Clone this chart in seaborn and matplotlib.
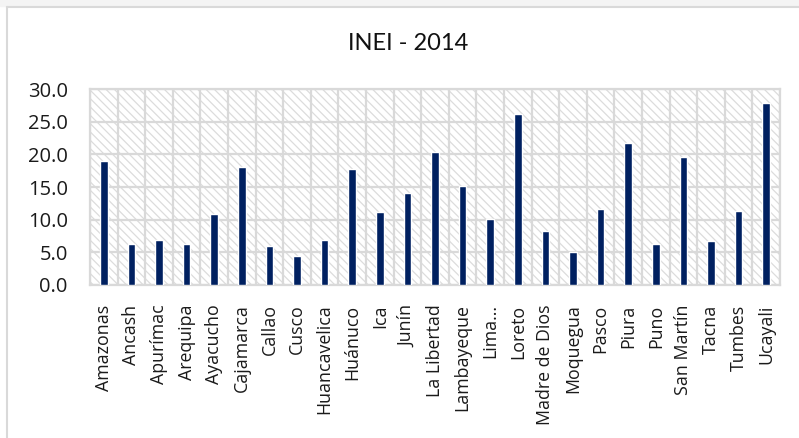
import numpy as np
import pandas as pd
import matplotlib
matplotlib.use("Agg")
import matplotlib.pyplot as plt
import seaborn as sns

# -------------------------------------------------
# Data (INEI - 2014)
# -------------------------------------------------

regiones = ["Amazonas", "Ancash", "Apurímac", "Arequipa", "Ayacucho",
            "Cajamarca", "Callao", "Cusco", "Huancavelica", "Huánuco",
            "Ica", "Junín", "La Libertad", "Lambayeque", "Lima...",
            "Loreto", "Madre de Dios", "Moquegua", "Pasco", "Piura",
            "Puno", "San Martín", "Tacna", "Tumbes", "Ucayali"]

valores = [19.0, 6.3, 6.9, 6.3, 10.8,
           18.1, 5.9, 4.4, 6.9, 17.7,
           11.2, 14.1, 20.3, 15.2, 10.1,
           26.2, 8.2, 5.0, 11.7, 21.7,
           6.3, 19.6, 6.7, 11.4, 27.8]

y_ticks = [0, 5, 10, 15, 20, 25, 30]

df = pd.DataFrame({"region": regiones, "valor": valores})

# -------------------------------------------------
# Plot
# -------------------------------------------------

sns.set_style("white")
plt.rcParams["font.family"] = ["Open Sans", "DejaVu Sans"]
plt.rcParams["hatch.linewidth"] = 0.9
plt.rcParams["hatch.color"] = "#dcdcdc"

fig = plt.figure(figsize=(7.99, 4.38), dpi=100)
ax = fig.add_axes([90 / 799, 1 - 285 / 438, 690 / 799, 196 / 438])

# hatched background of the plot area
ax.patch.set_facecolor("white")
ax.patch.set_hatch("\\\\\\\\")
ax.patch.set_edgecolor("#dcdcdc")

sns.barplot(data=df, x="region", y="valor", color="#002060",
            width=0.27, saturation=1, ax=ax, zorder=3)

ax.set_xlim(-0.5, len(regiones) - 0.5)
ax.set_ylim(0, 30)
ax.set_yticks(y_ticks)
ax.set_yticklabels([f"{v:.1f}" for v in y_ticks], fontsize=14.5, color="#1a1a1a")
ax.set_xticks(range(len(regiones)))
ax.set_xticklabels(regiones, rotation=90, fontsize=12.8, color="#1a1a1a")
ax.tick_params(axis="y", length=0, pad=16)
ax.tick_params(axis="x", length=0, pad=14)
ax.set_xlabel("")
ax.set_ylabel("")

# grid lines: horizontal at each 5, vertical between categories
for v in y_ticks:
    ax.axhline(v, color="#d9d9d9", lw=1.6, zorder=1)
for i in range(len(regiones) + 1):
    ax.axvline(i - 0.5, color="#d9d9d9", lw=1.6, zorder=1)

for s in ax.spines.values():
    s.set_color("#d9d9d9")
    s.set_linewidth(1.6)

fig.text(408 / 799, 1 - 43 / 438, "INEI - 2014", ha="center", va="center",
         fontsize=17, color="#111111", family=["Lato", "DejaVu Sans"])

# chart frame (light gray border on left and top)
fig.add_artist(plt.Line2D([7 / 799, 7 / 799], [0, 1 - 7 / 438],
                          color="#d9d9d9", lw=1.5, transform=fig.transFigure))
fig.add_artist(plt.Line2D([7 / 799, 1], [1 - 7 / 438, 1 - 7 / 438],
                          color="#d9d9d9", lw=1.5, transform=fig.transFigure))
fig.patches.append(plt.Rectangle((0, 1 - 6 / 438), 1, 6 / 438,
                                 color="#f4f4f4", transform=fig.transFigure,
                                 zorder=0))

plt.savefig("out.png", dpi=100)
